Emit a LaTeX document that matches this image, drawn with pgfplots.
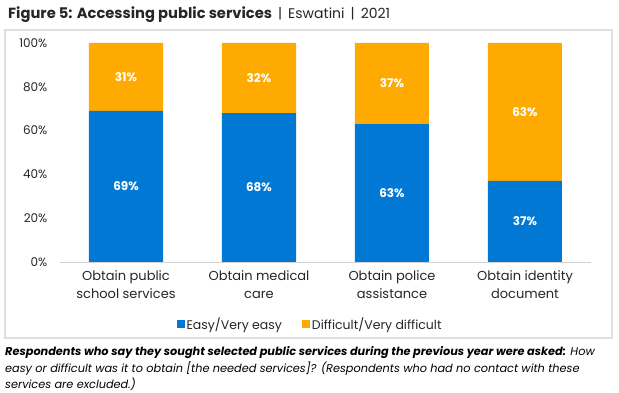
\documentclass[border=0pt]{standalone}
\usepackage{fontspec}
\setmainfont{Poppins}
\usepackage{pgfplots}
\pgfplotsset{compat=1.18}
\definecolor{cblue}{RGB}{0,120,212}
\definecolor{corange}{RGB}{255,170,0}
\definecolor{ctext}{RGB}{38,38,38}
\begin{document}
\begin{tikzpicture}[x=1pt,y=1pt]
\path[use as bounding box] (0,0) rectangle (619,393);
\draw[black!12, line width=1.2pt] (5,55) rectangle (612,363);
\node[anchor=base west, inner sep=0, text=ctext] at (8,374) {\fontsize{14.7}{16}\selectfont\textbf{Figure 5: Accessing public services}\fontsize{14}{16}\selectfont{} \,|\, Eswatini \,|\, 2021};
\begin{axis}[
  at={(59.5pt,131pt)}, anchor=south west, scale only axis,
  width=532pt, height=219pt,
  ybar stacked, bar width=74pt,
  ymin=0, ymax=100, xmin=-0.5, xmax=3.5,
  axis x line*=bottom, axis y line*=left,
  x axis line style={black!18, line width=0.8pt},
  y axis line style={draw=none},
  xtick=data,
  xticklabels={{Obtain public\\school services},{Obtain medical\\care},{Obtain police\\assistance},{Obtain identity\\document}},
  xtick style={draw=none},
  xticklabel style={align=center, inner sep=0pt, yshift=-8pt, font=\fontsize{13}{18}\selectfont, text=ctext},
  ytick={0,20,40,60,80,100},
  ytick style={draw=none},
  yticklabel={\pgfmathprintnumber{\tick}\%},
  yticklabel style={inner sep=0pt, xshift=-12pt, font=\fontsize{12}{14}\selectfont, text=ctext},
  /pgf/number format/assume math mode=true,
  legend style={at={(0.471,-0.283)}, anchor=center, draw=none, fill=none,
    legend columns=2, font=\fontsize{12.5}{14}\selectfont, text=ctext,
    /tikz/every even column/.append style={column sep=18pt}},
  legend cell align=left,
]
\addplot[fill=cblue, draw=none, legend image code/.code={\fill[cblue] (0pt,-4pt) rectangle (8pt,4pt);}] coordinates {(0,69) (1,68) (2,63) (3,37)};
\addlegendentry{Easy/Very easy}
\addplot[fill=corange, draw=none, legend image code/.code={\fill[corange] (0pt,-4pt) rectangle (8pt,4pt);}] coordinates {(0,31) (1,32) (2,37) (3,63)};
\addlegendentry{Difficult/Very difficult}
\end{axis}
\begin{axis}[
  at={(59.5pt,131pt)}, anchor=south west, scale only axis,
  width=532pt, height=219pt,
  ymin=0, ymax=100, xmin=-0.5, xmax=3.5, hide axis,
]
\addplot[draw=none, mark=none, nodes near coords, point meta=explicit symbolic,
  nodes near coords align=center,
  every node near coord/.append style={anchor=center, text=white, font=\fontsize{12}{14}\selectfont\bfseries}]
  coordinates {(0,34.5)[69\%] (1,34)[68\%] (2,31.5)[63\%] (3,18.5)[37\%]
               (0,84.5)[31\%] (1,84)[32\%] (2,81.5)[37\%] (3,68.5)[63\%]};
\end{axis}
\node[anchor=base west, inner sep=0, text=black, align=left, font=\fontsize{11.3}{16.5}\selectfont\itshape] at (5,4)
 {\textbf{Respondents who say they sought selected public services during the previous year were asked:} How\\
  easy or difficult was it to obtain [the needed services]? (Respondents who had no contact with these\\
  services are excluded.)};
\end{tikzpicture}
\end{document}
